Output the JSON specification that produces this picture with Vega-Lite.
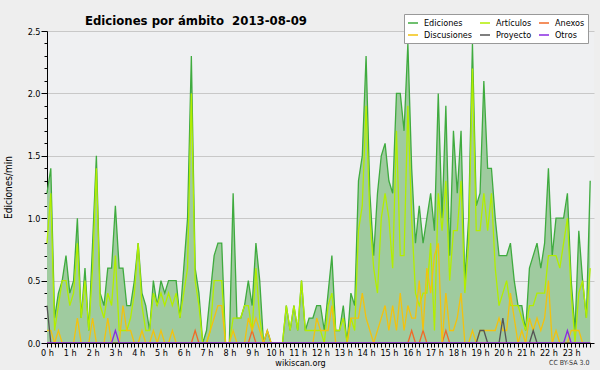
{
"$schema": "https://vega.github.io/schema/vega-lite/v6.json",
"width": 547, "height": 312,
"autosize": "none",
"padding": {"left": 47, "top": 31, "right": 6, "bottom": 27},
"background": "#eeeeee",
"config": {"font": "DejaVu Sans Condensed, DejaVu Sans", "view": {"fill": "#eff0f2", "stroke": null}},
"title": {"text": "Ediciones por ámbito \u00a02013-08-09", "anchor": "start", "frame": "group", "dx": 38, "dy": 18, "fontSize": 13, "fontWeight": "bold", "color": "#000000", "offset": 4},
"data": {"values": [
{"m":0,"Ediciones":1.2,"Artículos":0.8,"Anexos":0,"Discusiones":0.1,"Proyecto":0.3,"Otros":0},
{"m":10,"Ediciones":1.4,"Artículos":1.2,"Anexos":0,"Discusiones":0.1,"Proyecto":0,"Otros":0},
{"m":20,"Ediciones":0.2,"Artículos":0.1,"Anexos":0,"Discusiones":0,"Proyecto":0,"Otros":0},
{"m":30,"Ediciones":0.4,"Artículos":0.3,"Anexos":0,"Discusiones":0.1,"Proyecto":0,"Otros":0},
{"m":40,"Ediciones":0.5,"Artículos":0.5,"Anexos":0,"Discusiones":0,"Proyecto":0,"Otros":0},
{"m":50,"Ediciones":0.7,"Artículos":0.5,"Anexos":0,"Discusiones":0,"Proyecto":0,"Otros":0},
{"m":60,"Ediciones":0.4,"Artículos":0.3,"Anexos":0,"Discusiones":0,"Proyecto":0,"Otros":0},
{"m":70,"Ediciones":0.5,"Artículos":0.4,"Anexos":0,"Discusiones":0,"Proyecto":0,"Otros":0},
{"m":80,"Ediciones":1.0,"Artículos":0.8,"Anexos":0,"Discusiones":0.2,"Proyecto":0,"Otros":0},
{"m":90,"Ediciones":0.2,"Artículos":0.2,"Anexos":0,"Discusiones":0,"Proyecto":0,"Otros":0},
{"m":100,"Ediciones":0.6,"Artículos":0.5,"Anexos":0,"Discusiones":0,"Proyecto":0,"Otros":0},
{"m":110,"Ediciones":0.1,"Artículos":0.1,"Anexos":0,"Discusiones":0,"Proyecto":0,"Otros":0},
{"m":120,"Ediciones":0.8,"Artículos":0.6,"Anexos":0,"Discusiones":0.2,"Proyecto":0,"Otros":0},
{"m":130,"Ediciones":1.5,"Artículos":1.4,"Anexos":0,"Discusiones":0,"Proyecto":0,"Otros":0},
{"m":140,"Ediciones":0.4,"Artículos":0.3,"Anexos":0,"Discusiones":0,"Proyecto":0,"Otros":0},
{"m":150,"Ediciones":0.3,"Artículos":0.2,"Anexos":0,"Discusiones":0,"Proyecto":0,"Otros":0},
{"m":160,"Ediciones":0.6,"Artículos":0.4,"Anexos":0,"Discusiones":0.2,"Proyecto":0,"Otros":0},
{"m":170,"Ediciones":0.6,"Artículos":0.3,"Anexos":0,"Discusiones":0,"Proyecto":0,"Otros":0},
{"m":180,"Ediciones":1.1,"Artículos":0.7,"Anexos":0,"Discusiones":0,"Proyecto":0,"Otros":0.1},
{"m":190,"Ediciones":0.6,"Artículos":0.1,"Anexos":0,"Discusiones":0,"Proyecto":0,"Otros":0},
{"m":200,"Ediciones":0.6,"Artículos":0.1,"Anexos":0,"Discusiones":0.3,"Proyecto":0,"Otros":0},
{"m":210,"Ediciones":0.3,"Artículos":0.1,"Anexos":0,"Discusiones":0.1,"Proyecto":0,"Otros":0},
{"m":220,"Ediciones":0.3,"Artículos":0.2,"Anexos":0,"Discusiones":0.1,"Proyecto":0,"Otros":0},
{"m":230,"Ediciones":0.5,"Artículos":0.4,"Anexos":0,"Discusiones":0,"Proyecto":0,"Otros":0},
{"m":240,"Ediciones":0.8,"Artículos":0.8,"Anexos":0,"Discusiones":0,"Proyecto":0,"Otros":0},
{"m":250,"Ediciones":0.4,"Artículos":0.3,"Anexos":0,"Discusiones":0.1,"Proyecto":0,"Otros":0},
{"m":260,"Ediciones":0.3,"Artículos":0.1,"Anexos":0,"Discusiones":0,"Proyecto":0,"Otros":0},
{"m":270,"Ediciones":0.1,"Artículos":0.1,"Anexos":0,"Discusiones":0,"Proyecto":0,"Otros":0},
{"m":280,"Ediciones":0.5,"Artículos":0.4,"Anexos":0,"Discusiones":0.1,"Proyecto":0,"Otros":0},
{"m":290,"Ediciones":0.3,"Artículos":0.3,"Anexos":0,"Discusiones":0,"Proyecto":0,"Otros":0},
{"m":300,"Ediciones":0.5,"Artículos":0.4,"Anexos":0,"Discusiones":0.1,"Proyecto":0,"Otros":0},
{"m":310,"Ediciones":0.4,"Artículos":0.3,"Anexos":0,"Discusiones":0,"Proyecto":0,"Otros":0},
{"m":320,"Ediciones":0.5,"Artículos":0.4,"Anexos":0,"Discusiones":0,"Proyecto":0,"Otros":0},
{"m":330,"Ediciones":0.5,"Artículos":0.3,"Anexos":0,"Discusiones":0.1,"Proyecto":0,"Otros":0},
{"m":340,"Ediciones":0.5,"Artículos":0.4,"Anexos":0,"Discusiones":0,"Proyecto":0,"Otros":0},
{"m":350,"Ediciones":0.2,"Artículos":0.2,"Anexos":0,"Discusiones":0,"Proyecto":0,"Otros":0},
{"m":360,"Ediciones":0.6,"Artículos":0.4,"Anexos":0,"Discusiones":0,"Proyecto":0,"Otros":0},
{"m":370,"Ediciones":1.0,"Artículos":0.6,"Anexos":0,"Discusiones":0,"Proyecto":0,"Otros":0},
{"m":380,"Ediciones":2.3,"Artículos":2.0,"Anexos":0,"Discusiones":0,"Proyecto":0,"Otros":0},
{"m":390,"Ediciones":0.6,"Artículos":0.5,"Anexos":0.1,"Discusiones":0,"Proyecto":0,"Otros":0},
{"m":400,"Ediciones":0.4,"Artículos":0.3,"Anexos":0,"Discusiones":0,"Proyecto":0,"Otros":0},
{"m":410,"Ediciones":0,"Artículos":0,"Anexos":0,"Discusiones":0,"Proyecto":0,"Otros":0},
{"m":420,"Ediciones":0.1,"Artículos":0,"Anexos":0,"Discusiones":0,"Proyecto":0,"Otros":0},
{"m":430,"Ediciones":0.4,"Artículos":0.1,"Anexos":0,"Discusiones":0.1,"Proyecto":0,"Otros":0},
{"m":440,"Ediciones":0.7,"Artículos":0.5,"Anexos":0,"Discusiones":0.2,"Proyecto":0,"Otros":0},
{"m":450,"Ediciones":0.8,"Artículos":0.5,"Anexos":0,"Discusiones":0.3,"Proyecto":0,"Otros":0},
{"m":460,"Ediciones":0.8,"Artículos":0.5,"Anexos":0,"Discusiones":0.3,"Proyecto":0,"Otros":0},
{"m":470,"Ediciones":0,"Artículos":0,"Anexos":0,"Discusiones":0,"Proyecto":0,"Otros":0},
{"m":480,"Ediciones":0,"Artículos":0,"Anexos":0,"Discusiones":0,"Proyecto":0,"Otros":0},
{"m":490,"Ediciones":1.2,"Artículos":0.2,"Anexos":0,"Discusiones":0.1,"Proyecto":0,"Otros":0},
{"m":500,"Ediciones":0.2,"Artículos":0.2,"Anexos":0,"Discusiones":0,"Proyecto":0,"Otros":0},
{"m":510,"Ediciones":0.2,"Artículos":0.2,"Anexos":0,"Discusiones":0,"Proyecto":0,"Otros":0},
{"m":520,"Ediciones":0.3,"Artículos":0.3,"Anexos":0,"Discusiones":0,"Proyecto":0,"Otros":0},
{"m":530,"Ediciones":0.5,"Artículos":0.3,"Anexos":0,"Discusiones":0.2,"Proyecto":0,"Otros":0},
{"m":540,"Ediciones":0.3,"Artículos":0.1,"Anexos":0.1,"Discusiones":0.1,"Proyecto":0,"Otros":0},
{"m":550,"Ediciones":0.8,"Artículos":0.6,"Anexos":0,"Discusiones":0.2,"Proyecto":0,"Otros":0},
{"m":560,"Ediciones":0.5,"Artículos":0.2,"Anexos":0,"Discusiones":0.1,"Proyecto":0,"Otros":0},
{"m":570,"Ediciones":0,"Artículos":0,"Anexos":0,"Discusiones":0,"Proyecto":0,"Otros":0},
{"m":580,"Ediciones":0.1,"Artículos":0,"Anexos":0,"Discusiones":0.1,"Proyecto":0,"Otros":0},
{"m":590,"Ediciones":0,"Artículos":0,"Anexos":0,"Discusiones":0,"Proyecto":0,"Otros":0},
{"m":600,"Ediciones":0,"Artículos":0,"Anexos":0,"Discusiones":0,"Proyecto":0,"Otros":0},
{"m":610,"Ediciones":0,"Artículos":0,"Anexos":0,"Discusiones":0,"Proyecto":0,"Otros":0},
{"m":620,"Ediciones":0,"Artículos":0,"Anexos":0,"Discusiones":0,"Proyecto":0,"Otros":0},
{"m":630,"Ediciones":0.3,"Artículos":0.3,"Anexos":0,"Discusiones":0,"Proyecto":0,"Otros":0},
{"m":640,"Ediciones":0.1,"Artículos":0.1,"Anexos":0,"Discusiones":0,"Proyecto":0,"Otros":0},
{"m":650,"Ediciones":0.3,"Artículos":0.3,"Anexos":0,"Discusiones":0,"Proyecto":0,"Otros":0},
{"m":660,"Ediciones":0.1,"Artículos":0.1,"Anexos":0,"Discusiones":0,"Proyecto":0,"Otros":0},
{"m":670,"Ediciones":0.5,"Artículos":0.5,"Anexos":0,"Discusiones":0,"Proyecto":0,"Otros":0},
{"m":680,"Ediciones":0.1,"Artículos":0.1,"Anexos":0,"Discusiones":0,"Proyecto":0,"Otros":0},
{"m":690,"Ediciones":0.2,"Artículos":0.1,"Anexos":0,"Discusiones":0,"Proyecto":0,"Otros":0},
{"m":700,"Ediciones":0.2,"Artículos":0.1,"Anexos":0,"Discusiones":0,"Proyecto":0,"Otros":0},
{"m":710,"Ediciones":0.3,"Artículos":0.1,"Anexos":0,"Discusiones":0.2,"Proyecto":0,"Otros":0},
{"m":720,"Ediciones":0.3,"Artículos":0.1,"Anexos":0,"Discusiones":0.1,"Proyecto":0,"Otros":0},
{"m":730,"Ediciones":0.1,"Artículos":0,"Anexos":0,"Discusiones":0.1,"Proyecto":0,"Otros":0},
{"m":740,"Ediciones":0.4,"Artículos":0.3,"Anexos":0,"Discusiones":0.1,"Proyecto":0,"Otros":0},
{"m":750,"Ediciones":0.7,"Artículos":0.4,"Anexos":0,"Discusiones":0.3,"Proyecto":0,"Otros":0},
{"m":760,"Ediciones":0.1,"Artículos":0.1,"Anexos":0,"Discusiones":0,"Proyecto":0,"Otros":0},
{"m":770,"Ediciones":0.1,"Artículos":0.1,"Anexos":0,"Discusiones":0,"Proyecto":0,"Otros":0},
{"m":780,"Ediciones":0.3,"Artículos":0.2,"Anexos":0,"Discusiones":0,"Proyecto":0,"Otros":0},
{"m":790,"Ediciones":0,"Artículos":0,"Anexos":0,"Discusiones":0,"Proyecto":0,"Otros":0},
{"m":800,"Ediciones":0.4,"Artículos":0.2,"Anexos":0,"Discusiones":0.2,"Proyecto":0,"Otros":0},
{"m":810,"Ediciones":0.3,"Artículos":0.1,"Anexos":0,"Discusiones":0.2,"Proyecto":0,"Otros":0},
{"m":820,"Ediciones":1.3,"Artículos":0.9,"Anexos":0,"Discusiones":0.2,"Proyecto":0,"Otros":0},
{"m":830,"Ediciones":1.5,"Artículos":1.1,"Anexos":0,"Discusiones":0.4,"Proyecto":0,"Otros":0},
{"m":840,"Ediciones":2.3,"Artículos":1.9,"Anexos":0,"Discusiones":0.2,"Proyecto":0,"Otros":0},
{"m":850,"Ediciones":1.2,"Artículos":1.0,"Anexos":0,"Discusiones":0.1,"Proyecto":0,"Otros":0},
{"m":860,"Ediciones":0.7,"Artículos":0.6,"Anexos":0,"Discusiones":0,"Proyecto":0,"Otros":0},
{"m":870,"Ediciones":1.2,"Artículos":0.4,"Anexos":0,"Discusiones":0.1,"Proyecto":0,"Otros":0},
{"m":880,"Ediciones":1.5,"Artículos":1.0,"Anexos":0,"Discusiones":0.2,"Proyecto":0,"Otros":0},
{"m":890,"Ediciones":1.6,"Artículos":1.2,"Anexos":0,"Discusiones":0.3,"Proyecto":0,"Otros":0},
{"m":900,"Ediciones":1.3,"Artículos":1.0,"Anexos":0,"Discusiones":0.1,"Proyecto":0,"Otros":0},
{"m":910,"Ediciones":1.2,"Artículos":0.6,"Anexos":0,"Discusiones":0.3,"Proyecto":0,"Otros":0},
{"m":920,"Ediciones":2.0,"Artículos":1.7,"Anexos":0,"Discusiones":0.1,"Proyecto":0,"Otros":0},
{"m":930,"Ediciones":2.0,"Artículos":0.7,"Anexos":0,"Discusiones":0.4,"Proyecto":0,"Otros":0},
{"m":940,"Ediciones":1.7,"Artículos":0.7,"Anexos":0,"Discusiones":0.1,"Proyecto":0,"Otros":0},
{"m":950,"Ediciones":2.4,"Artículos":1.9,"Anexos":0,"Discusiones":0.3,"Proyecto":0,"Otros":0},
{"m":960,"Ediciones":1.4,"Artículos":1.0,"Anexos":0.1,"Discusiones":0.2,"Proyecto":0,"Otros":0},
{"m":970,"Ediciones":0.8,"Artículos":0.4,"Anexos":0,"Discusiones":0.2,"Proyecto":0,"Otros":0},
{"m":980,"Ediciones":1.1,"Artículos":0.3,"Anexos":0,"Discusiones":0.5,"Proyecto":0,"Otros":0},
{"m":990,"Ediciones":0.8,"Artículos":0.4,"Anexos":0.1,"Discusiones":0.1,"Proyecto":0,"Otros":0},
{"m":1000,"Ediciones":1.0,"Artículos":0.4,"Anexos":0,"Discusiones":0.6,"Proyecto":0,"Otros":0},
{"m":1010,"Ediciones":1.2,"Artículos":0.8,"Anexos":0,"Discusiones":0.4,"Proyecto":0,"Otros":0},
{"m":1020,"Ediciones":0.9,"Artículos":0.1,"Anexos":0,"Discusiones":0.7,"Proyecto":0,"Otros":0},
{"m":1030,"Ediciones":2.0,"Artículos":1.2,"Anexos":0,"Discusiones":0.8,"Proyecto":0,"Otros":0},
{"m":1040,"Ediciones":1.0,"Artículos":0.9,"Anexos":0,"Discusiones":0,"Proyecto":0,"Otros":0},
{"m":1050,"Ediciones":1.9,"Artículos":1.3,"Anexos":0.1,"Discusiones":0.4,"Proyecto":0,"Otros":0},
{"m":1060,"Ediciones":0.7,"Artículos":0.5,"Anexos":0,"Discusiones":0.1,"Proyecto":0,"Otros":0},
{"m":1070,"Ediciones":1.7,"Artículos":0.9,"Anexos":0,"Discusiones":0.1,"Proyecto":0,"Otros":0},
{"m":1080,"Ediciones":1.2,"Artículos":0.9,"Anexos":0,"Discusiones":0.2,"Proyecto":0,"Otros":0},
{"m":1090,"Ediciones":1.7,"Artículos":1.3,"Anexos":0,"Discusiones":0.4,"Proyecto":0,"Otros":0},
{"m":1100,"Ediciones":0.5,"Artículos":0.4,"Anexos":0,"Discusiones":0,"Proyecto":0,"Otros":0},
{"m":1110,"Ediciones":1.0,"Artículos":0.8,"Anexos":0,"Discusiones":0,"Proyecto":0,"Otros":0},
{"m":1120,"Ediciones":2.4,"Artículos":2.2,"Anexos":0,"Discusiones":0.1,"Proyecto":0,"Otros":0},
{"m":1130,"Ediciones":1.1,"Artículos":0.9,"Anexos":0,"Discusiones":0,"Proyecto":0,"Otros":0},
{"m":1140,"Ediciones":1.2,"Artículos":0.9,"Anexos":0,"Discusiones":0.1,"Proyecto":0.1,"Otros":0},
{"m":1150,"Ediciones":2.1,"Artículos":1.2,"Anexos":0,"Discusiones":0.1,"Proyecto":0.1,"Otros":0},
{"m":1160,"Ediciones":1.4,"Artículos":0.9,"Anexos":0,"Discusiones":0.1,"Proyecto":0,"Otros":0},
{"m":1170,"Ediciones":1.4,"Artículos":1.2,"Anexos":0,"Discusiones":0.1,"Proyecto":0,"Otros":0},
{"m":1180,"Ediciones":1.0,"Artículos":0.6,"Anexos":0,"Discusiones":0.1,"Proyecto":0,"Otros":0},
{"m":1190,"Ediciones":0.7,"Artículos":0.3,"Anexos":0,"Discusiones":0.2,"Proyecto":0,"Otros":0},
{"m":1200,"Ediciones":0.7,"Artículos":0.4,"Anexos":0,"Discusiones":0.1,"Proyecto":0.2,"Otros":0},
{"m":1210,"Ediciones":0.7,"Artículos":0.5,"Anexos":0,"Discusiones":0.1,"Proyecto":0,"Otros":0},
{"m":1220,"Ediciones":0.8,"Artículos":0.3,"Anexos":0,"Discusiones":0.4,"Proyecto":0,"Otros":0},
{"m":1230,"Ediciones":0.5,"Artículos":0.3,"Anexos":0,"Discusiones":0.2,"Proyecto":0,"Otros":0},
{"m":1240,"Ediciones":0.3,"Artículos":0.3,"Anexos":0,"Discusiones":0,"Proyecto":0,"Otros":0},
{"m":1250,"Ediciones":0.3,"Artículos":0.2,"Anexos":0,"Discusiones":0.1,"Proyecto":0,"Otros":0},
{"m":1260,"Ediciones":0.1,"Artículos":0.1,"Anexos":0,"Discusiones":0,"Proyecto":0,"Otros":0},
{"m":1270,"Ediciones":0.6,"Artículos":0.3,"Anexos":0,"Discusiones":0.2,"Proyecto":0,"Otros":0},
{"m":1280,"Ediciones":0.7,"Artículos":0.3,"Anexos":0,"Discusiones":0.1,"Proyecto":0.1,"Otros":0},
{"m":1290,"Ediciones":0.8,"Artículos":0.4,"Anexos":0,"Discusiones":0.2,"Proyecto":0,"Otros":0},
{"m":1300,"Ediciones":0.6,"Artículos":0.4,"Anexos":0,"Discusiones":0.1,"Proyecto":0,"Otros":0},
{"m":1310,"Ediciones":0.8,"Artículos":0.4,"Anexos":0,"Discusiones":0.2,"Proyecto":0,"Otros":0},
{"m":1320,"Ediciones":1.4,"Artículos":0.7,"Anexos":0,"Discusiones":0.5,"Proyecto":0,"Otros":0},
{"m":1330,"Ediciones":0.7,"Artículos":0.7,"Anexos":0,"Discusiones":0,"Proyecto":0,"Otros":0},
{"m":1340,"Ediciones":1.0,"Artículos":0.7,"Anexos":0,"Discusiones":0.1,"Proyecto":0,"Otros":0},
{"m":1350,"Ediciones":1.0,"Artículos":0.6,"Anexos":0,"Discusiones":0,"Proyecto":0,"Otros":0},
{"m":1360,"Ediciones":1.0,"Artículos":0.8,"Anexos":0,"Discusiones":0,"Proyecto":0,"Otros":0},
{"m":1370,"Ediciones":1.2,"Artículos":1.0,"Anexos":0,"Discusiones":0,"Proyecto":0,"Otros":0.1},
{"m":1380,"Ediciones":0.5,"Artículos":0.4,"Anexos":0,"Discusiones":0.1,"Proyecto":0,"Otros":0},
{"m":1390,"Ediciones":0.1,"Artículos":0,"Anexos":0,"Discusiones":0.1,"Proyecto":0,"Otros":0},
{"m":1400,"Ediciones":0.9,"Artículos":0.4,"Anexos":0,"Discusiones":0.1,"Proyecto":0,"Otros":0},
{"m":1410,"Ediciones":0.5,"Artículos":0.5,"Anexos":0,"Discusiones":0,"Proyecto":0,"Otros":0},
{"m":1420,"Ediciones":0.2,"Artículos":0.2,"Anexos":0,"Discusiones":0,"Proyecto":0,"Otros":0},
{"m":1430,"Ediciones":1.3,"Artículos":0.6,"Anexos":0,"Discusiones":0,"Proyecto":0,"Otros":0}
]},
"transform": [{"fold": ["Ediciones", "Artículos", "Anexos", "Discusiones", "Proyecto", "Otros"], "as": ["serie", "valor"]}],
"layer": [
{
"transform": [{"filter": "datum.serie === 'Ediciones'"}],
"mark": {"type": "area", "color": "#9fcb9f", "opacity": 1},
"encoding": {
"x": {"field": "m", "type": "quantitative", "scale": {"domain": [0, 1440], "nice": false, "zero": false},
"axis": {"orient": "bottom", "values": [0,10,20,30,40,50,60,70,80,90,100,110,120,130,140,150,160,170,180,190,200,210,220,230,240,250,260,270,280,290,300,310,320,330,340,350,360,370,380,390,400,410,420,430,440,450,460,470,480,490,500,510,520,530,540,550,560,570,580,590,600,610,620,630,640,650,660,670,680,690,700,710,720,730,740,750,760,770,780,790,800,810,820,830,840,850,860,870,880,890,900,910,920,930,940,950,960,970,980,990,1000,1010,1020,1030,1040,1050,1060,1070,1080,1090,1100,1110,1120,1130,1140,1150,1160,1170,1180,1190,1200,1210,1220,1230,1240,1250,1260,1270,1280,1290,1300,1310,1320,1330,1340,1350,1360,1370,1380,1390,1400,1410,1420,1430],
"labelExpr": "datum.value % 60 === 0 ? (datum.value / 60) + ' h' : ''",
"labelOverlap": false, "labelFlush": false, "labelBound": false, "labelFontSize": 9, "labelPadding": 1, "labelColor": "#000000",
"tickSize": 4, "tickColor": "#000000", "domainColor": "#000000", "grid": false, "zindex": 1,
"title": "wikiscan.org", "titleFontSize": 9, "titleFontWeight": "normal", "titleColor": "#000000",
"titleX": 253, "titleY": 22, "titleAlign": "center", "titleBaseline": "alphabetic", "titleAnchor": null}},
"y": {"field": "valor", "type": "quantitative", "scale": {"domain": [0, 2.5], "nice": false},
"axis": {"orient": "left", "values": [0,0.1,0.2,0.3,0.4,0.5,0.6,0.7,0.8,0.9,1.0,1.1,1.2,1.3,1.4,1.5,1.6,1.7,1.8,1.9,2.0,2.1,2.2,2.3,2.4,2.5],
"labelExpr": "abs(datum.value*2 - round(datum.value*2)) < 0.001 ? format(datum.value, '.1f') : ''",
"labelOverlap": false, "labelFlush": false, "labelBound": false, "labelFontSize": 9, "labelPadding": 1, "labelColor": "#000000",
"tickSize": {"condition": {"test": "abs(datum.value*2 - round(datum.value*2)) < 0.001", "value": 6}, "value": 3},
"tickColor": "#000000", "domainColor": "#000000",
"grid": true, "gridColor": "#c8c8c8",
"gridOpacity": {"condition": {"test": "abs(datum.value*2 - round(datum.value*2)) < 0.001 && datum.value > 0", "value": 1}, "value": 0},
"title": "Ediciones/min", "titleFontSize": 10, "titleFontWeight": "normal", "titleColor": "#000000", "titlePadding": 14}}
}
},
{
"mark": {"type": "line", "strokeWidth": 1.3},
"encoding": {
"x": {"field": "m", "type": "quantitative",
"axis": {"orient": "bottom", "title": "CC BY-SA 3.0", "labels": false, "ticks": false, "domain": false, "grid": false,
"titleFontSize": 7, "titleFontWeight": "normal", "titleColor": "#333333", "titleX": 542, "titleY": 21, "titleAlign": "right", "titleBaseline": "alphabetic", "titleAnchor": null}},
"y": {"field": "valor", "type": "quantitative", "axis": null},
"color": {"field": "serie", "type": "nominal",
"scale": {"domain": ["Ediciones", "Artículos", "Anexos", "Discusiones", "Proyecto", "Otros"], "range": ["#3fab3f", "#b2ee00", "#f06a28", "#f2c20f", "#555555", "#8a2be2"]},
"legend": {"title": null, "orient": "none", "legendX": 357, "legendY": -17, "direction": "horizontal", "columns": 3,
"symbolType": "stroke", "symbolSize": 100, "symbolStrokeWidth": 1.5, "labelFontSize": 9, "labelColor": "#000000", "labelOffset": 5,
"columnPadding": 4, "rowPadding": 1, "padding": 3, "fillColor": "#ffffff", "strokeColor": "#999999"}}
}
}
],
"resolve": {"axis": {"x": "independent", "y": "independent"}}
}
